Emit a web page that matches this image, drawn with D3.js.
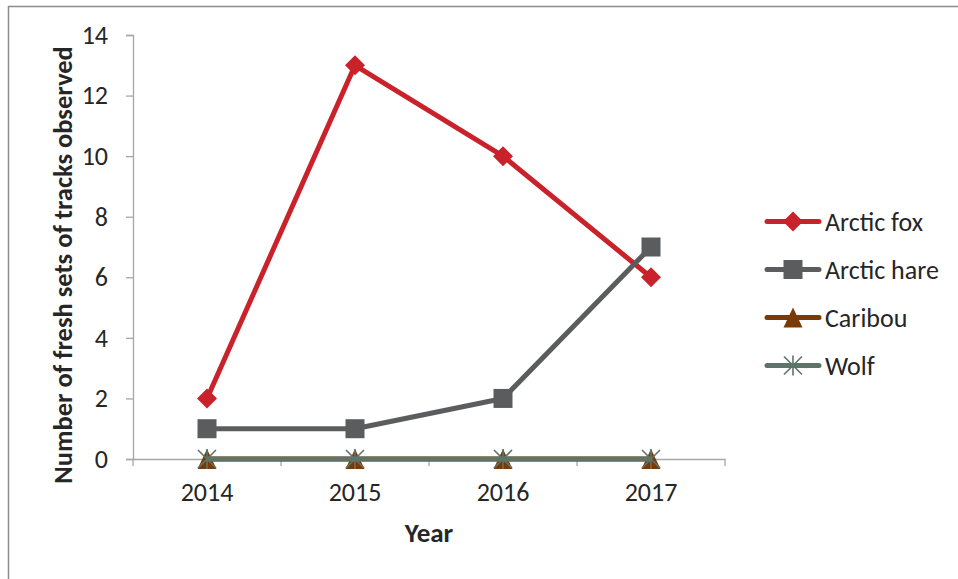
<!DOCTYPE html>
<html><head><meta charset="utf-8">
<script src="https://cdn.jsdelivr.net/npm/d3@7"></script>
<style>body{margin:0;background:#fff;} text{font-family:Carlito, Calibri, Lato, "Open Sans", sans-serif;fill:#262626;}</style>
</head><body>
<svg id="c" width="958" height="579"></svg>
<script>
const years = ["2014","2015","2016","2017"];
const arcticFox = [2,13,10,6];
const arcticHare = [1,1,2,7];
const caribou = [0,0,0,0];
const wolf = [0,0,0,0];
const yTicks = [0,2,4,6,8,10,12,14];
const seriesNames = ["Arctic fox","Arctic hare","Caribou","Wolf"];
const seriesColors = ["#C9222A","#5B5C5E","#7A3A08","#5E7468"];
const seriesShapes = ["diamond","square","triangle","star"];
const seriesValues = [arcticFox, arcticHare, caribou, wolf];

const svg = d3.select("#c");
svg.append("rect").attr("x",8.5).attr("y",6.5).attr("width",960).attr("height",600)
  .attr("fill","none").attr("stroke","#8c8c8c").attr("stroke-width",1.5);

const x = d3.scaleBand().domain(years).range([133,725]);
const y = d3.scaleLinear().domain([0,14]).range([459,35]);

const ya = svg.append("g").attr("transform","translate(133,0)")
  .call(d3.axisLeft(y).tickValues(yTicks).tickSize(7).tickPadding(18));
const xa = svg.append("g").attr("transform","translate(0,459)")
  .call(d3.axisBottom(x).tickSize(0).tickPadding(24));
[ya,xa].forEach(a=>{a.select(".domain").attr("stroke","#a6a6a6").attr("stroke-width",1.3);
  a.selectAll("line").attr("stroke","#a6a6a6").attr("stroke-width",1.3);
  a.selectAll("text").style("font-size","26px").attr("fill","#262626");});
// x boundary ticks
svg.append("g").selectAll("line").data(years.concat(["end"])).join("line")
  .attr("x1",(d,i)=>133+i*x.bandwidth()).attr("x2",(d,i)=>133+i*x.bandwidth())
  .attr("y1",459).attr("y2",466).attr("stroke","#a6a6a6").attr("stroke-width",1.3);

svg.append("text").attr("x",429).attr("y",542).attr("text-anchor","middle")
  .style("font-size","27px").style("font-weight","bold").text("Year");
svg.append("text").attr("transform","translate(72,265) rotate(-90)").attr("text-anchor","middle")
  .style("font-size","26.5px").style("font-weight","bold").text("Number of fresh sets of tracks observed");

function marker(g, shape, color, cx, cy){
  if(shape==="diamond"){
    g.append("path").attr("d",`M${cx},${cy-10}L${cx+10},${cy}L${cx},${cy+10}L${cx-10},${cy}Z`).attr("fill",color);
  } else if(shape==="square"){
    g.append("rect").attr("x",cx-9.5).attr("y",cy-9.5).attr("width",19).attr("height",19).attr("fill",color);
  } else if(shape==="triangle"){
    g.append("path").attr("d",`M${cx},${cy-10}L${cx+9.5},${cy+10}L${cx-9.5},${cy+10}Z`).attr("fill",color);
  } else {
    g.append("path").attr("d",`M${cx-9},${cy-9}L${cx+9},${cy+9}M${cx-9},${cy+9}L${cx+9},${cy-9}M${cx},${cy-10}L${cx},${cy+10}`)
      .attr("stroke",color).attr("stroke-width",1.6).attr("fill","none");
  }
}

const line = d3.line().x((d,i)=>x(years[i])+x.bandwidth()/2).y(d=>y(d));
seriesValues.forEach((vals,k)=>{
  const g = svg.append("g");
  g.append("path").attr("d",line(vals)).attr("fill","none").attr("stroke",seriesColors[k])
    .attr("stroke-width",5).attr("stroke-linejoin","round");
  vals.forEach((v,i)=>marker(g, seriesShapes[k], seriesColors[k], x(years[i])+x.bandwidth()/2, y(v)));
});

const leg = svg.append("g");
seriesNames.forEach((n,k)=>{
  const cy = 221.5 + k*48;
  leg.append("line").attr("x1",767).attr("x2",819).attr("y1",cy).attr("y2",cy)
    .attr("stroke",seriesColors[k]).attr("stroke-width",5).attr("stroke-linecap","round");
  marker(leg, seriesShapes[k], seriesColors[k], 793, cy);
  leg.append("text").attr("x",825).attr("y",cy+9).style("font-size","26px").text(n);
});
</script>
</body></html>
